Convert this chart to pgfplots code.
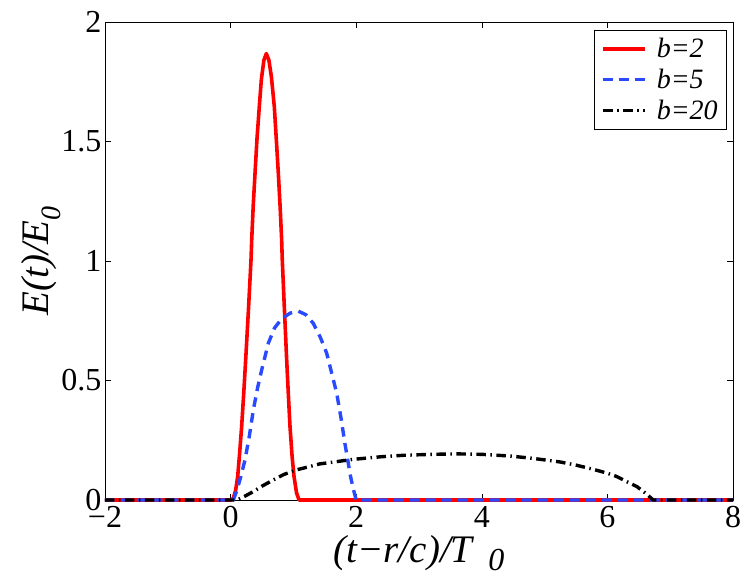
\documentclass[border=0pt]{standalone}
\usepackage{pgfplots}
\pgfplotsset{compat=1.18}
\usepackage{fontspec}
\setmainfont{Liberation Serif}
\definecolor{myblue}{rgb}{0.16,0.29,1}
\begin{document}
\begin{tikzpicture}
\begin{axis}[
  scale only axis,
  width=628pt, height=478pt,
  xmin=-2, xmax=8, ymin=0, ymax=2,
  xtick={-2,0,2,4,6,8},
  ytick={0,0.5,1,1.5,2},
  yticklabels={0,0.5,1,1.5,2},
  xticklabels={−2,0,2,4,6,8},
  tick align=inside,
  major tick length=6pt,
  tick style={black, line width=0.6pt},
  axis line style={line width=0.8pt},
  every tick label/.append style={font=\fontsize{32}{36}\selectfont},
  /pgf/number format/assume math mode=true,
  xticklabel style={yshift=-3pt},
  xlabel={\textit{(t−r/c)/T}\hspace{0.35em}\raisebox{-0.22em}{\fontsize{32}{32}\selectfont\textit{0}}},
  ylabel={\textit{E(t)/E}\raisebox{-0.3em}{\fontsize{28}{28}\selectfont\textit{0}}},
  label style={font=\fontsize{39}{44}\selectfont},
  xlabel style={yshift=0pt},
  ylabel style={yshift=-6pt},
  clip=false,
  legend style={at={(1,1)}, anchor=north east, xshift=-6pt, yshift=-8pt,
    font=\fontsize{28}{30}\selectfont, draw=black, line width=0.6pt,
    inner xsep=7pt, inner ysep=6pt, row sep=6pt,
    /tikz/every odd column/.append style={column sep=8pt}},
  legend cell align=left,
  legend image code/.code={\draw[#1] (0pt,0pt) -- (42pt,0pt);},
]
\addplot[red, line width=3.6pt, line join=round] coordinates {
(-2,0) (0,0) (0.04,0.005) (0.08,0.04) (0.113,0.098) (0.145,0.2) (0.176,0.307)
(0.21,0.45) (0.24,0.586) (0.285,0.8) (0.325,1.004) (0.336,1.088) (0.36,1.23)
(0.389,1.367) (0.42,1.51) (0.457,1.646) (0.49,1.76) (0.53,1.84) (0.569,1.868)
(0.61,1.84) (0.65,1.77) (0.696,1.646) (0.73,1.50) (0.76,1.367) (0.79,1.22)
(0.813,1.088) (0.823,1.004) (0.86,0.78) (0.893,0.586) (0.92,0.44) (0.946,0.307)
(0.98,0.18) (1.01,0.098) (1.05,0.03) (1.09,0) (8,0)};
\addlegendentry{\textit{b=2}}
\addplot[myblue, line width=3.4pt, line join=round, dash pattern=on 9.5pt off 6.5pt] coordinates {
(-2,0) (0,0) (0.043,0) (0.1,0.04) (0.16,0.095) (0.229,0.167) (0.3,0.27)
(0.362,0.377) (0.43,0.47) (0.495,0.544) (0.601,0.656) (0.7,0.72) (0.813,0.758)
(0.95,0.782) (1.08,0.79) (1.2,0.775) (1.317,0.739) (1.43,0.68) (1.53,0.614)
(1.62,0.52) (1.69,0.446) (1.76,0.34) (1.82,0.237) (1.87,0.16) (1.91,0.098)
(1.96,0.04) (2.0,0) (8,0)};
\addlegendentry{\textit{b=5}}
\addplot[black, line width=3.4pt, line join=round, dash pattern=on 9.5pt off 4.5pt on 1.5pt off 4.5pt] coordinates {
(-2,0) (0.1,0) (0.2,0.012) (0.36,0.035) (0.5,0.058) (0.68,0.084) (0.85,0.107)
(1.05,0.126) (1.42,0.151) (1.95,0.170) (2.4,0.181) (2.75,0.187) (3.2,0.191)
(3.6,0.193) (4.0,0.191) (4.45,0.184) (4.82,0.174) (5.25,0.159) (5.5,0.146)
(5.78,0.128) (6.0,0.112) (6.15,0.098) (6.3,0.078) (6.47,0.056) (6.6,0.03)
(6.73,0) (8,0)};
\addlegendentry{\textit{b=20}}
\end{axis}
\pgfresetboundingbox
\path ([shift={(-105pt,-87pt)}]current axis.south west) rectangle ([shift={(14pt,22pt)}]current axis.north east);
\end{tikzpicture}
\end{document}
